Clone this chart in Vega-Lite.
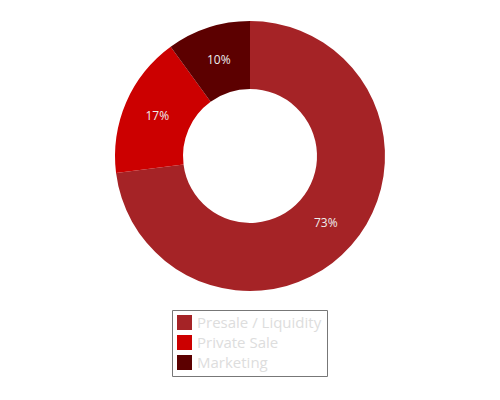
{
  "$schema": "https://vega.github.io/schema/vega-lite/v6.json",
  "width": 500,
  "height": 312,
  "autosize": {"type": "none"},
  "padding": {"top": 0, "left": 0, "right": 0, "bottom": 88},
  "background": "white",
  "config": {"view": {"stroke": null}, "font": "Open Sans"},
  "data": {
    "values": [
      {"category": "Presale / Liquidity", "share": 73, "label": "73%", "order": 1},
      {"category": "Private Sale", "share": 17, "label": "17%", "order": 2},
      {"category": "Marketing", "share": 10, "label": "10%", "order": 3}
    ]
  },
  "encoding": {
    "theta": {"field": "share", "type": "quantitative", "stack": true},
    "order": {"field": "order", "type": "quantitative"},
    "color": {
      "field": "category",
      "type": "nominal",
      "scale": {
        "domain": ["Presale / Liquidity", "Private Sale", "Marketing"],
        "range": ["#A52326", "#CC0000", "#5C0000"]
      },
      "legend": {
        "title": null,
        "orient": "none",
        "legendX": 172,
        "legendY": 310,
        "strokeColor": "#777777",
        "fillColor": "white",
        "padding": 5,
        "symbolType": "square",
        "symbolSize": 225,
        "symbolStrokeWidth": 0,
        "symbolOpacity": 1,
        "labelFontSize": 15,
        "labelColor": "#dddddd",
        "labelFont": "Open Sans",
        "rowPadding": 4,
        "labelOffset": 5,
        "labelLimit": 300
      }
    }
  },
  "layer": [
    {"mark": {"type": "arc", "outerRadius": 135, "innerRadius": 67}},
    {
      "mark": {"type": "text", "radius": 101, "fontSize": 12, "fill": "#eeeeee", "font": "Open Sans"},
      "encoding": {"text": {"field": "label"}, "color": {"value": "#eeeeee"}}
    }
  ]
}
